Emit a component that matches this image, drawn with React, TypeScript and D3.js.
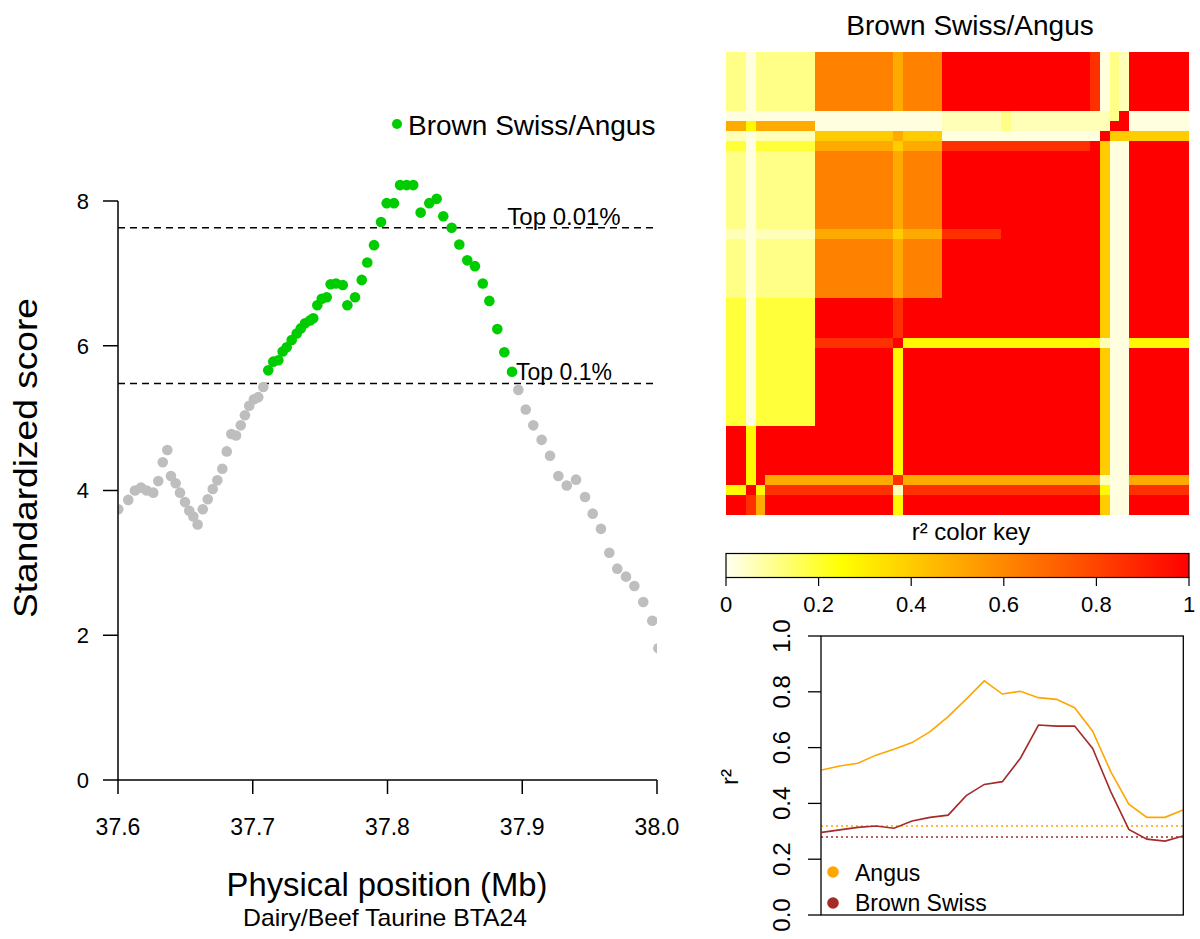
import React from "react";
import * as d3 from "d3";

const FONT = "'Liberation Sans', Arial, Helvetica, sans-serif";

// ---------------- data: standardized score scan ----------------
const POSITIONS_MB = [
  37.6002, 37.6076, 37.6126, 37.6171, 37.6213, 37.6262, 37.6299, 37.6332, 37.6366, 37.6393,
  37.6428, 37.646, 37.6497, 37.6529, 37.6559, 37.6591, 37.6629, 37.6666, 37.6703, 37.6737,
  37.6774, 37.6807, 37.6841, 37.6876, 37.6911, 37.6942, 37.6974, 37.7009, 37.7041, 37.7078,
  37.7115, 37.7152, 37.719, 37.7222, 37.7252, 37.7289, 37.7326, 37.7356, 37.7388, 37.7425,
  37.7449, 37.7479, 37.7512, 37.7549, 37.7578, 37.7618, 37.7668, 37.7702, 37.7759, 37.7809,
  37.785, 37.79, 37.7952, 37.7994, 37.8048, 37.8093, 37.8142, 37.8191, 37.8246, 37.831,
  37.8365, 37.8414, 37.8476, 37.8533, 37.8592, 37.8649, 37.8707, 37.8756, 37.8815, 37.8867,
  37.8924, 37.8971, 37.9026, 37.9082, 37.9144, 37.9206, 37.9268, 37.933, 37.9399, 37.9466,
  37.9523, 37.9584, 37.9646, 37.9705, 37.977, 37.9832, 37.9898, 37.9965, 38.001,
];
const SCORES = [
  3.74, 3.87, 4.0, 4.04, 4.0, 3.97, 4.13, 4.39, 4.56, 4.2,
  4.1, 3.97, 3.84, 3.72, 3.64, 3.53, 3.74, 3.88, 4.02, 4.14,
  4.3, 4.54, 4.78, 4.76, 4.9, 5.04, 5.17, 5.26, 5.29, 5.43,
  5.66, 5.78, 5.8, 5.92, 5.98, 6.08, 6.17, 6.24, 6.31, 6.35,
  6.38, 6.56, 6.65, 6.67, 6.85, 6.86, 6.84, 6.56, 6.67, 6.91,
  7.15, 7.39, 7.71, 7.97, 7.97, 8.22, 8.22, 8.22, 7.84, 7.97,
  8.03, 7.79, 7.63, 7.4, 7.18, 7.1, 6.86, 6.62, 6.23, 5.91,
  5.64, 5.39, 5.12, 4.9, 4.7, 4.48, 4.2, 4.07, 4.15, 3.91,
  3.68, 3.47, 3.14, 2.92, 2.81, 2.68, 2.46, 2.2, 1.82,
];
const TOP_001 = 7.63;
const TOP_01 = 5.48;
const X_TICKS = [37.6, 37.7, 37.8, 37.9, 38.0];
const Y_TICKS = [0, 2, 4, 6, 8];
const LEGEND_LABEL = "Brown Swiss/Angus";

// ---------------- data: LD heatmap (block-coded r² levels) ----------------
const HM_COL_SIZES = [2, 1, 1, 5, 8, 1, 4, 6, 1, 8, 1, 1, 1, 1, 6];
const HM_ROW_SIZES = [6, 1, 1, 1, 1, 8, 1, 6, 4, 1, 8, 5, 1, 1, 2];
const HM_BLOCKS = [
  "202276799980219",
  "000000012111290",
  "646600012111990",
  "101156500009555",
  "303365688895009",
  "202276799995009",
  "101165689995009",
  "202276799995009",
  "303398999995009",
  "303389444441004",
  "303394999995009",
  "949994999995009",
  "949668666661006",
  "494881888884008",
  "986994999995009",
];
const R2_LEVELS = [0.02, 0.06, 0.11, 0.19, 0.27, 0.4, 0.5, 0.62, 0.86, 1.0];
const KEY_TICKS = [0, 0.2, 0.4, 0.6, 0.8, 1];

// ---------------- data: r² profiles ----------------
const ANGUS_R2 = [
  0.52, 0.534, 0.544, 0.573, 0.594, 0.618, 0.657, 0.711, 0.774, 0.839, 0.792,
  0.802, 0.779, 0.773, 0.743, 0.659, 0.514, 0.397, 0.35, 0.35, 0.376,
];
const BROWN_SWISS_R2 = [
  0.296, 0.305, 0.314, 0.319, 0.311, 0.337, 0.35, 0.358, 0.428, 0.468, 0.478,
  0.562, 0.681, 0.677, 0.677, 0.597, 0.442, 0.307, 0.272, 0.265, 0.283,
];
const ANGUS_BASELINE = 0.319;
const BROWN_SWISS_BASELINE = 0.28;
const R2_TICKS = [0, 0.2, 0.4, 0.6, 0.8, 1.0];

const GREEN = "#00CD00";
const GRAY = "#BEBEBE";
const ORANGE = "#FFA500";
const BROWN = "#A52A2A";

function expandBlocks(): number[][] {
  const rows: number[][] = [];
  HM_BLOCKS.forEach((code, bi) => {
    const row: number[] = [];
    code.split("").forEach((ch, gi) => {
      for (let k = 0; k < HM_COL_SIZES[gi]; k++) row.push(R2_LEVELS[+ch]);
    });
    for (let k = 0; k < HM_ROW_SIZES[bi]; k++) rows.push(row);
  });
  return rows;
}

export default function App() {
  // left scatter
  const x = d3.scaleLinear().domain([37.6, 38.0]).range([118, 657]);
  const y = d3.scaleLinear().domain([0, 8]).range([780, 201]);

  // heatmap
  const grid = expandBlocks();
  const n = grid.length;
  const hx = d3.scaleBand<number>().domain(d3.range(n)).range([726, 1188.3]);
  const hy = d3.scaleBand<number>().domain(d3.range(n)).range([52.3, 514.8]);
  const heat = d3
    .scaleLinear<string>()
    .domain([0, 0.25, 1])
    .range(["#FFFFF2", "#FFFF00", "#FF0000"])
    .clamp(true);
  const keyX = d3.scaleLinear().domain([0, 1]).range([726, 1189]);
  const gradStops = d3.range(0, 1.0001, 0.05);

  // r² chart
  const rx = d3.scaleLinear().domain([0, ANGUS_R2.length - 1]).range([821.7, 1183]);
  const ry = d3.scaleLinear().domain([0, 1]).range([915, 636]);
  const line = d3
    .line<number>()
    .x((_, i) => rx(i))
    .y((d) => ry(d));

  return (
    <div style={{ position: "absolute", left: 0, top: 0 }}>
      <svg width={1200} height={939} style={{ display: "block", background: "#fff" }} fontFamily={FONT}>
        <defs>
          <clipPath id="plotClip">
            <rect x={118} y={0} width={539} height={800} />
          </clipPath>
          <linearGradient id="keyGrad" x1="0" x2="1" y1="0" y2="0">
            {gradStops.map((t) => (
              <stop key={t} offset={t} stopColor={heat(t)} />
            ))}
          </linearGradient>
        </defs>

        {/* ---------- left panel ---------- */}
        {[TOP_001, TOP_01].map((v) => (
          <line key={v} x1={118} x2={656} y1={y(v)} y2={y(v)} stroke="#000" strokeWidth={1.5} strokeDasharray="7,5" />
        ))}
        <text x={564} y={y(TOP_001) - 3} textAnchor="middle" fontSize={24}>Top 0.01%</text>
        <text x={564} y={y(TOP_01) - 3} textAnchor="middle" fontSize={23}>Top 0.1%</text>

        <g clipPath="url(#plotClip)">
          {POSITIONS_MB.map((p, i) => (
            <circle key={i} cx={x(p)} cy={y(SCORES[i])} r={5.3} fill={SCORES[i] > TOP_01 ? GREEN : GRAY} />
          ))}
        </g>

        {/* axes */}
        <line x1={118} x2={118} y1={y(0)} y2={y(8)} stroke="#000" strokeWidth={1.5} />
        <line x1={118} x2={657} y1={y(0)} y2={y(0)} stroke="#000" strokeWidth={1.5} />
        {Y_TICKS.map((t) => (
          <g key={t}>
            <line x1={103} x2={118} y1={y(t)} y2={y(t)} stroke="#000" strokeWidth={1.5} />
            <text x={89} y={y(t)} dy="0.36em" textAnchor="end" fontSize={22}>{t}</text>
          </g>
        ))}
        {X_TICKS.map((t) => (
          <g key={t}>
            <line x1={x(t)} x2={x(t)} y1={780} y2={794} stroke="#000" strokeWidth={1.5} />
            <text x={x(t)} y={835} textAnchor="middle" fontSize={23}>{t.toFixed(1)}</text>
          </g>
        ))}
        <text x={387} y={896} textAnchor="middle" fontSize={33} textLength={321} lengthAdjust="spacingAndGlyphs">
          Physical position (Mb)
        </text>
        <text x={385} y={926} textAnchor="middle" fontSize={24} textLength={284} lengthAdjust="spacingAndGlyphs">
          Dairy/Beef Taurine BTA24
        </text>
        <text transform="translate(37,458) rotate(-90)" textAnchor="middle" fontSize={33} textLength={320} lengthAdjust="spacingAndGlyphs">
          Standardized score
        </text>

        {/* legend */}
        <circle cx={397} cy={124} r={5} fill={GREEN} />
        <text x={408} y={135} fontSize={28}>{LEGEND_LABEL}</text>

        {/* ---------- heatmap ---------- */}
        <text x={970} y={35} textAnchor="middle" fontSize={28}>Brown Swiss/Angus</text>
        <g shapeRendering="crispEdges">
          {grid.map((row, r) =>
            row.map((v, c) => (
              <rect
                key={r + "-" + c}
                x={hx(c)}
                y={hy(r)}
                width={hx.bandwidth() + 0.6}
                height={hy.bandwidth() + 0.6}
                fill={heat(v)}
              />
            ))
          )}
        </g>

        {/* color key */}
        <text x={971} y={540} textAnchor="middle" fontSize={24}>r² color key</text>
        <rect x={keyX(0)} y={553.5} width={keyX(1) - keyX(0)} height={24} fill="url(#keyGrad)" stroke="#000" strokeWidth={1.2} />
        {KEY_TICKS.map((t) => (
          <g key={t}>
            <line x1={keyX(t)} x2={keyX(t)} y1={577.5} y2={586} stroke="#000" strokeWidth={1.2} />
            <text x={keyX(t)} y={612} textAnchor="middle" fontSize={22}>{String(t)}</text>
          </g>
        ))}

        {/* ---------- r² profile ---------- */}
        <line x1={821} x2={1183} y1={ry(ANGUS_BASELINE)} y2={ry(ANGUS_BASELINE)} stroke={ORANGE} strokeWidth={1.5} strokeDasharray="2,3" />
        <line x1={821} x2={1183} y1={ry(BROWN_SWISS_BASELINE)} y2={ry(BROWN_SWISS_BASELINE)} stroke={BROWN} strokeWidth={1.5} strokeDasharray="2,3" />
        <path d={line(ANGUS_R2) || ""} fill="none" stroke={ORANGE} strokeWidth={1.6} />
        <path d={line(BROWN_SWISS_R2) || ""} fill="none" stroke={BROWN} strokeWidth={1.6} />
        <rect x={821} y={636} width={362.3} height={279} fill="none" stroke="#000" strokeWidth={1.3} />
        {R2_TICKS.map((t) => (
          <g key={t}>
            <line x1={808} x2={821} y1={ry(t)} y2={ry(t)} stroke="#000" strokeWidth={1.3} />
            <text transform={`translate(790,${ry(t)}) rotate(-90)`} textAnchor="middle" fontSize={24}>
              {t.toFixed(1)}
            </text>
          </g>
        ))}
        <text transform="translate(738,777) rotate(-90)" textAnchor="middle" fontSize={24}>r²</text>
        <circle cx={833} cy={872} r={5.8} fill={ORANGE} />
        <text x={855} y={881} fontSize={23}>Angus</text>
        <circle cx={833} cy={903} r={5.8} fill={BROWN} />
        <text x={855} y={911} fontSize={23}>Brown Swiss</text>
      </svg>
    </div>
  );
}
